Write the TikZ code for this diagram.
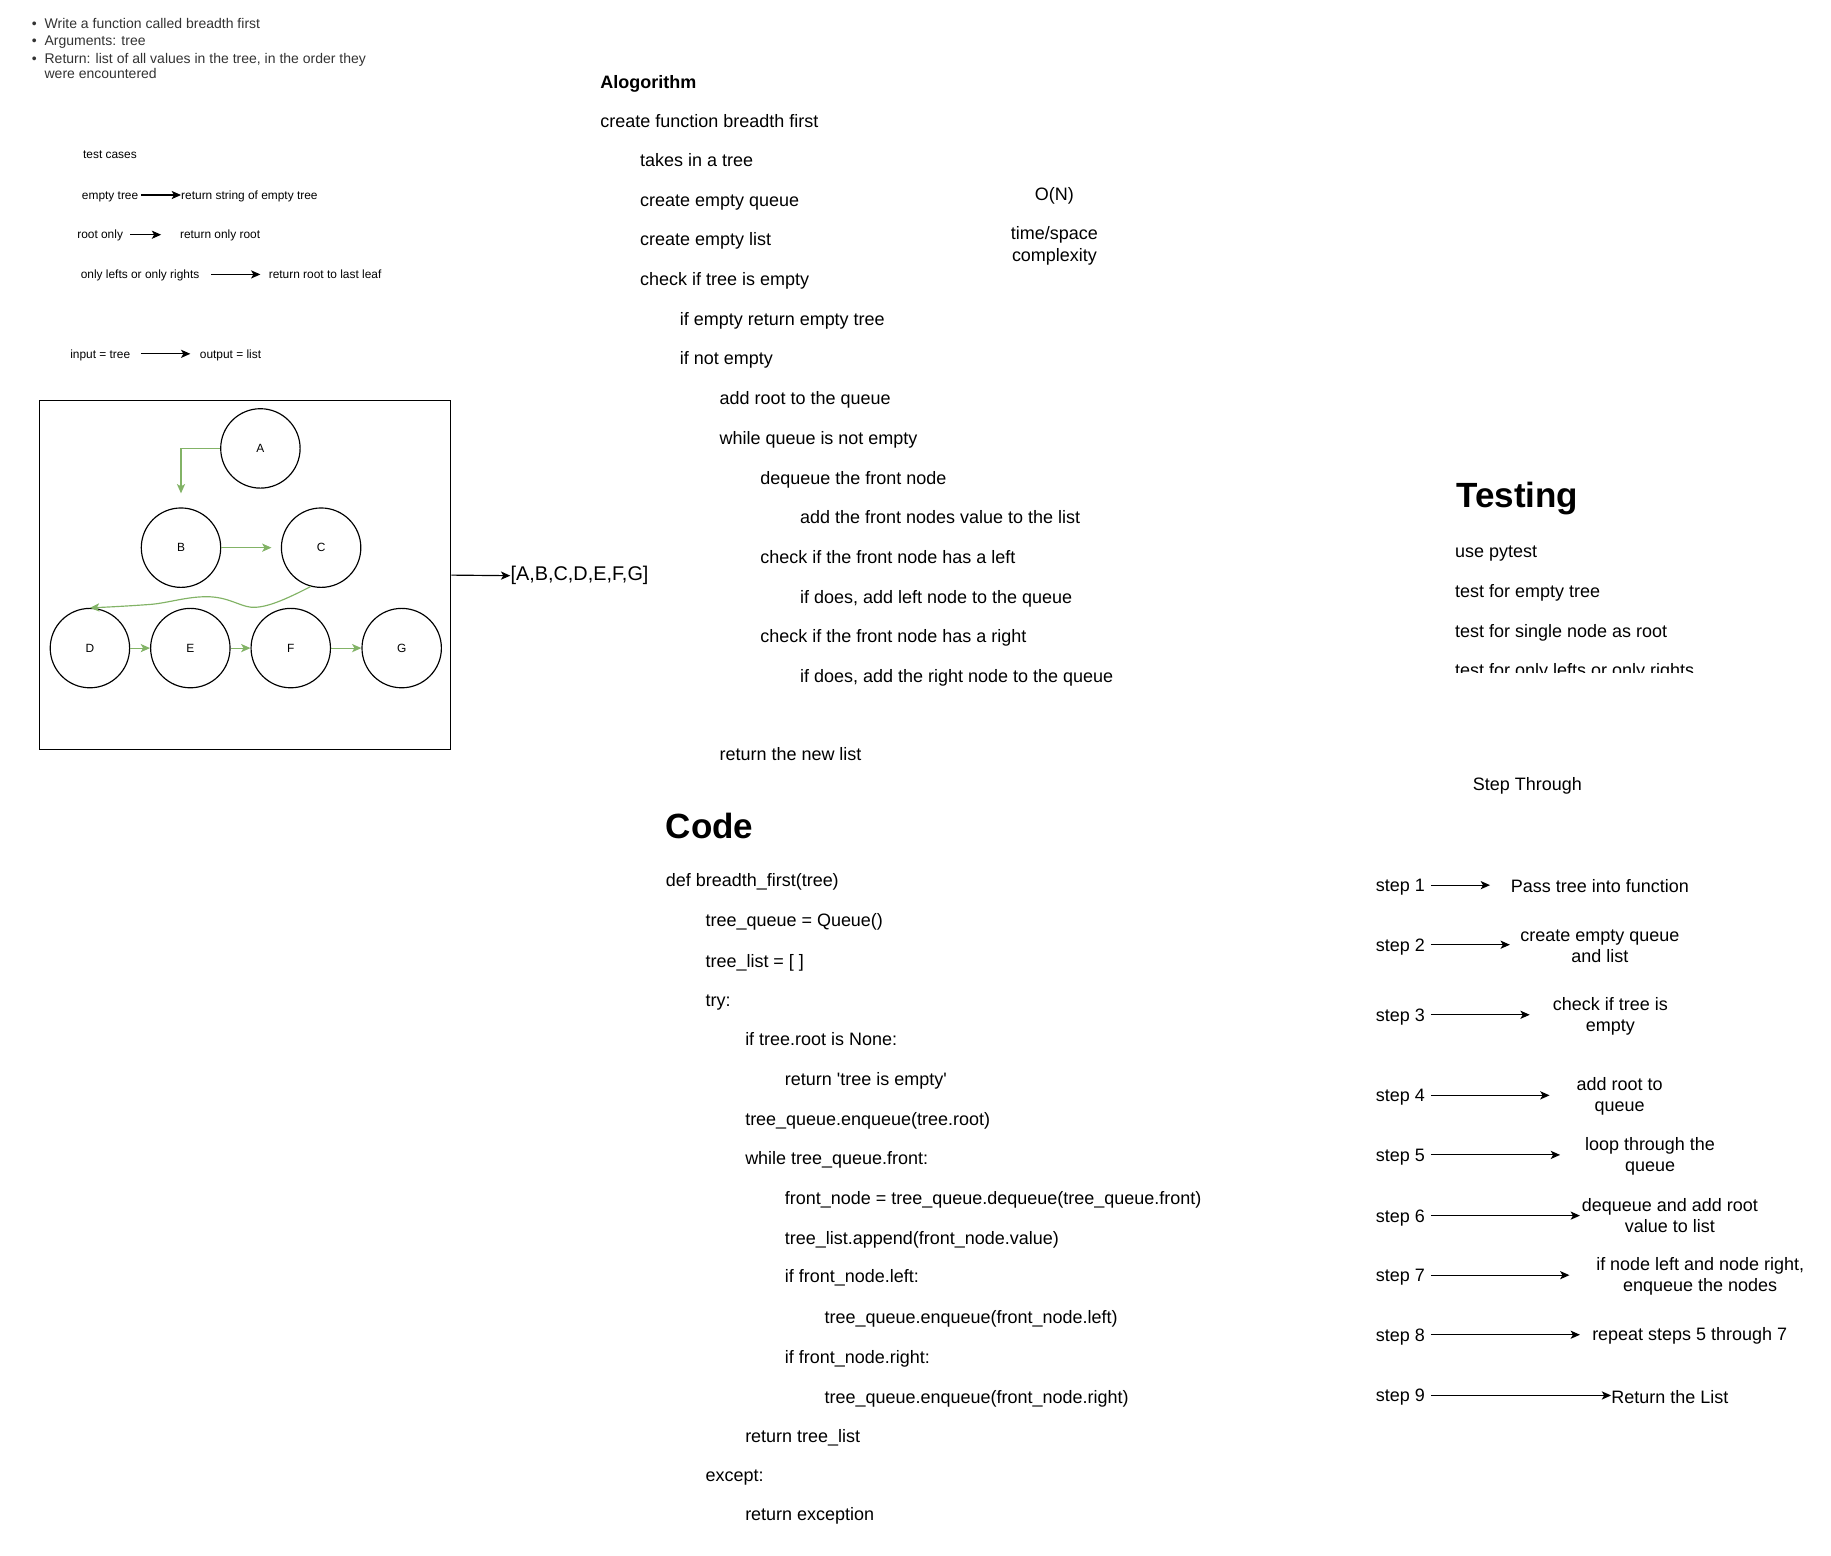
\documentclass[tikz,border=0pt]{standalone}
\usepackage{fontspec}
\setmainfont{Liberation Sans}
\usetikzlibrary{arrows.meta}
\begin{document}
\begin{tikzpicture}[x=1pt,y=-1pt]
	\definecolor{edge green}{HTML}{82B366}
	\colorlet{note gray}{black!80}
	\tikzset{txt/.style={anchor=west, inner sep=0pt, text height=11pt, text depth=0pt, font=\fontsize{15.4}{18.5}\selectfont},
		small/.style={anchor=west, inner sep=0pt, text height=7.3pt, text depth=0pt, font=\fontsize{10.2}{12}\selectfont},
		bullet/.style={anchor=west, inner sep=0pt, text height=8.6pt, text depth=0pt, text=note gray, font=\fontsize{12}{14}\selectfont},
		head/.style={anchor=west, inner sep=0pt, text height=21.6pt, text depth=0pt, font=\fontsize{30}{36}\selectfont\bfseries},
		multi/.style={align=center, inner sep=0pt, font=\fontsize{15.4}{18.5}\selectfont},
		vertex/.style={circle, draw, line width=1pt, minimum size=68pt, inner sep=0pt, font=\fontsize{10.2}{12}\selectfont},
		flow/.style={draw=edge green, line width=1pt, -{Stealth[length=8pt,width=7pt,inset=2pt]}},
		link/.style={draw, line width=1pt, -{Stealth[length=8pt,width=7pt,inset=2pt]}}}
	\useasboundingbox (0,0) rectangle (1568,1332.5);
	% task
	\node[bullet] (d1) at (27,20) {•};
	\node[bullet] (d2) at (27,35) {•};
	\node[bullet] (d3) at (27,50) {•};
	\node[bullet] (w1) at (38,20) {Write a function called breadth first};
	\node[bullet] (w2) at (38,35) {Arguments: tree};
	\node[bullet] (w3) at (38,50) {Return: list of all values in the tree, in the order they};
	\node[bullet] (w4) at (38,63) {were encountered};
	% test cases
	\node[small] (tc) at (71,132) {test cases};
	\node[small] (e1) at (70,167) {empty tree};
	\node[small] (r1) at (155,167) {return string of empty tree};
	\node[small] (e2) at (66,201) {root only};
	\node[small] (r2) at (154,201) {return only root};
	\node[small] (e3) at (69,235) {only lefts or only rights};
	\node[small] (r3) at (230,235) {return root to last leaf};
	\node[small] (e4) at (60,303) {input = tree};
	\node[small] (r4) at (171,303) {output = list};
	\draw[link, shorten <=2pt] (e1.east) -- (r1.west);
	\draw[link, shorten <=6pt, shorten >=16pt] (e2.east) -- (r2.west);
	\draw[link, shorten <=10pt, shorten >=7pt] (e3.east) -- (r3.west);
	\draw[link, shorten <=9pt, shorten >=8pt] (e4.east) -- (r4.west);
	% tree
	\node[draw, line width=1pt, minimum width=352pt, minimum height=299pt] (box) at (210,492.5) {};
	\node[vertex] (A) at (223,384) {A};
	\node[vertex] (B) at (155,469) {B};
	\node[vertex] (C) at (275,469) {C};
	\node[vertex] (D) at (77,555) {D};
	\node[vertex] (E) at (163,555) {E};
	\node[vertex] (F) at (249,555) {F};
	\node[vertex] (G) at (344,555) {G};
	\draw[flow] (A.west) -| ([yshift=12pt]B.north);
	\draw[flow, shorten >=8pt] (B.east) -- (C.west);
	\draw[flow] (C.-105) .. controls (245,513) and (228,521) .. (215,520)
		.. controls (205,519) and (195,511) .. (177,511)
		.. controls (160,511) and (145,516) .. (130,517.5)
		.. controls (110,519) and (90,520) .. (D.north);
	\draw[flow] (D) -- (E);
	\draw[flow] (E) -- (F);
	\draw[flow] (F) -- (G);
	\node[anchor=west, inner sep=0pt, font=\fontsize{17}{20}\selectfont] (res) at (437,493) {[A,B,C,D,E,F,G]};
	\draw[link] (box.east) -- (res.west);
	% algorithm
	\node[txt, font=\fontsize{15.4}{18.5}\selectfont\bfseries] (a0) at (514,70) {Alogorithm};
	\node[txt] (a1) at (514,104) {create function breadth first};
	\node[txt] (a2) at (548,137) {takes in a tree};
	\node[txt] (a3) at (548,171) {create empty queue};
	\node[txt] (a4) at (548,205) {create empty list};
	\node[txt] (a5) at (548,239) {check if tree is empty};
	\node[txt] (a6) at (582,273) {if empty return empty tree};
	\node[txt] (a7) at (582,307) {if not empty};
	\node[txt] (a8) at (616,341) {add root to the queue};
	\node[txt] (a9) at (616,375) {while queue is not empty};
	\node[txt] (a10) at (651,409) {dequeue the front node};
	\node[txt] (a11) at (685,443) {add the front nodes value to the list};
	\node[txt] (a12) at (651,477) {check if the front node has a left};
	\node[txt] (a13) at (685,511) {if does, add left node to the queue};
	\node[txt] (a14) at (651,545) {check if the front node has a right};
	\node[txt] (a15) at (685,579) {if does, add the right node to the queue};
	\node[txt] (a16) at (616,646) {return the new list};
	\node[multi] (on) at (903,168) {O(N)};
	\node[multi, font=\fontsize{15.4}{19}\selectfont] (cx) at (903,210.5) {time/space\\complexity};
	% testing
	\node[head] (t0) at (1247,424) {Testing};
	\node[txt] (u1) at (1246,472) {use pytest};
	\node[txt] (u2) at (1246,506) {test for empty tree};
	\node[txt] (u3) at (1246,540) {test for single node as root};
	\begin{scope}
		\clip (1240,555) rectangle (1520,575.5);
		\node[txt] (u4) at (1246,574) {test for only lefts or only rights};
	\end{scope}
	\node[multi] (st) at (1308,673) {Step Through};
	% code
	\node[head] (c0) at (570,707) {Code};
	\node[txt] (c1) at (570,754) {def breadth\_first(tree)};
	\node[txt] (c2) at (604,788) {tree\_queue = Queue()};
	\node[txt] (c3) at (604,823) {tree\_list = [ ]};
	\node[txt] (c4) at (604,856) {try:};
	\node[txt] (c5) at (638,890) {if tree.root is None:};
	\node[txt] (c6) at (672,924) {return \textquotesingle tree is empty\textquotesingle};
	\node[txt] (c7) at (638,958) {tree\_queue.enqueue(tree.root)};
	\node[txt] (c8) at (638,992) {while tree\_queue.front:};
	\node[txt] (c9) at (672,1026) {front\_node = tree\_queue.dequeue(tree\_queue.front)};
	\node[txt] (c10) at (672,1060) {tree\_list.append(front\_node.value)};
	\node[txt] (c11) at (672,1093) {if front\_node.left:};
	\node[txt] (c12) at (706,1128) {tree\_queue.enqueue(front\_node.left)};
	\node[txt] (c13) at (672,1162) {if front\_node.right:};
	\node[txt] (c14) at (706,1196) {tree\_queue.enqueue(front\_node.right)};
	\node[txt] (c15) at (638,1230) {return tree\_list};
	\node[txt] (c16) at (604,1263) {except:};
	\node[txt] (c17) at (638,1297) {return exception};
	% steps
	\node[txt] (s1) at (1178,758) {step 1};
	\node[txt] (s2) at (1178,809) {step 2};
	\node[txt] (s3) at (1178,869) {step 3};
	\node[txt] (s4) at (1178,938) {step 4};
	\node[txt] (s5) at (1178,989) {step 5};
	\node[txt] (s6) at (1178,1041) {step 6};
	\node[txt] (s7) at (1178,1092) {step 7};
	\node[txt] (s8) at (1178,1143) {step 8};
	\node[txt] (s9) at (1178,1195) {step 9};
	\node[multi] (t1) at (1370,759) {Pass tree into function};
	\node[multi, font=\fontsize{15.4}{18}\selectfont] (t2) at (1370,810) {create empty queue\\and list};
	\node[multi, font=\fontsize{15.4}{18}\selectfont] (t3) at (1379,870) {check if tree is\\empty};
	\node[multi, font=\fontsize{15.4}{18}\selectfont] (t4) at (1387,939) {add root to\\queue};
	\node[multi, font=\fontsize{15.4}{18}\selectfont] (t5) at (1413,990) {loop through the\\queue};
	\node[multi, font=\fontsize{15.4}{18}\selectfont] (t6) at (1430,1041) {dequeue and add root\\value to list};
	\node[multi, font=\fontsize{15.4}{18}\selectfont] (t7) at (1456,1093) {if node left and node right,\\enqueue the nodes};
	\node[multi] (t8) at (1447,1144) {repeat steps 5 through 7};
	\node[multi] (t9) at (1430,1196) {Return the List};
	\coordinate (p1) at (1276,758);
	\coordinate (p2) at (1293,809);
	\coordinate (p3) at (1310,869);
	\coordinate (p4) at (1327,938);
	\coordinate (p5) at (1336,989);
	\coordinate (p6) at (1353,1041);
	\coordinate (p7) at (1344,1092);
	\coordinate (p8) at (1353,1143);
	\draw[link, shorten <=5pt] (s1.east) -- (p1);
	\draw[link, shorten <=5pt] (s2.east) -- (p2);
	\draw[link, shorten <=5pt] (s3.east) -- (p3);
	\draw[link, shorten <=5pt] (s4.east) -- (p4);
	\draw[link, shorten <=5pt] (s5.east) -- (p5);
	\draw[link, shorten <=5pt] (s6.east) -- (p6);
	\draw[link, shorten <=5pt] (s7.east) -- (p7);
	\draw[link, shorten <=5pt] (s8.east) -- (p8);
	\draw[link, shorten <=5pt] (s9.east) -- (t9.west |- s9.east);
\end{tikzpicture}
\end{document}
